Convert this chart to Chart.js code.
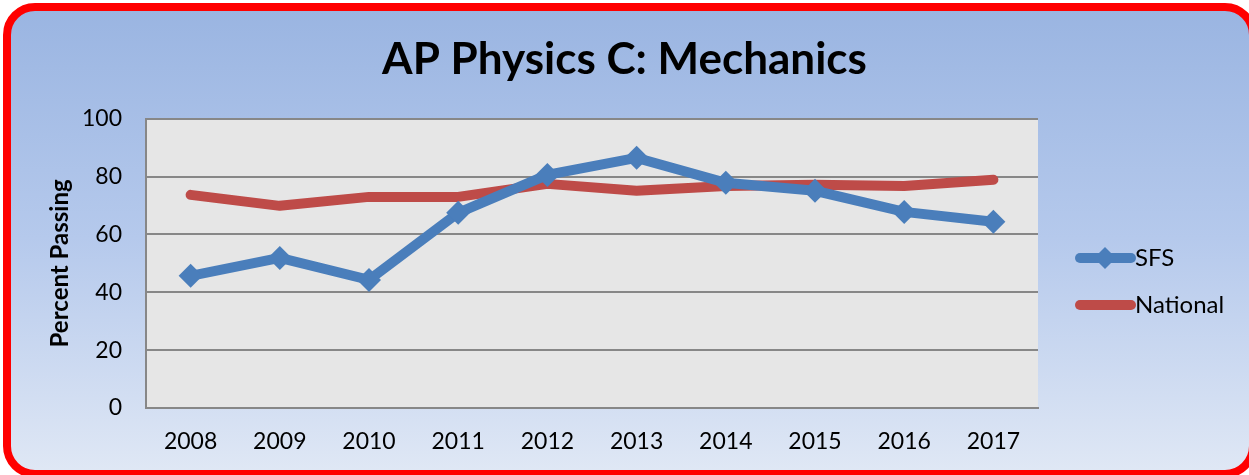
<!DOCTYPE html>
<html>
<head>
<meta charset="utf-8">
<script src="https://cdn.jsdelivr.net/npm/chart.js@4"></script>
<style>
  html, body { margin: 0; padding: 0; background: #fff; }
  #chart { display: block; }
</style>
</head>
<body>
<canvas id="chart" width="1249" height="475"></canvas>
<script>
const years = ['2008', '2009', '2010', '2011', '2012', '2013', '2014', '2015', '2016', '2017'];
const sfs = [45.7, 51.9, 44.3, 67.5, 80.6, 86.5, 77.9, 75.1, 67.8, 64.4];
const national = [73.7, 69.9, 73.0, 73.0, 77.5, 75.1, 76.8, 77.2, 76.8, 78.9];
const yTicks = [0, 20, 40, 60, 80, 100];

const FONT = 'Lato, "Open Sans", sans-serif';

// page background, red frame, grey plot area
const frame = {
  id: 'frame',
  beforeDraw(chart) {
    const ctx = chart.ctx;
    const h = chart.height;
    ctx.save();
    const g = ctx.createLinearGradient(0, 0, 0, h);
    g.addColorStop(0, '#99b4e1');
    g.addColorStop(0.5, '#b5c9ec');
    g.addColorStop(1, '#e0e8f5');
    ctx.beginPath();
    ctx.roundRect(7, 7, 1246, 467, 28);
    ctx.fillStyle = g;
    ctx.fill();
    ctx.lineWidth = 8;
    ctx.strokeStyle = '#ff0000';
    ctx.stroke();
    const a = chart.chartArea;
    ctx.fillStyle = '#e6e6e6';
    ctx.fillRect(a.left, a.top, a.right - a.left, a.bottom - a.top);
    ctx.restore();
  }
};

// legend on the right, Excel style
const sideLegend = {
  id: 'sideLegend',
  afterDraw(chart) {
    const ctx = chart.ctx;
    const rows = [258, 305];
    ctx.save();
    chart.data.datasets.forEach((ds, i) => {
      const y = rows[i];
      ctx.beginPath();
      ctx.moveTo(1080, y);
      ctx.lineTo(1131, y);
      ctx.lineWidth = 10;
      ctx.lineCap = 'round';
      ctx.strokeStyle = ds.borderColor;
      ctx.stroke();
      if (ds.pointRadius > 0) {
        ctx.beginPath();
        ctx.moveTo(1105, y - 11);
        ctx.lineTo(1116, y);
        ctx.lineTo(1105, y + 11);
        ctx.lineTo(1094, y);
        ctx.closePath();
        ctx.fillStyle = ds.borderColor;
        ctx.fill();
      }
      ctx.fillStyle = '#000';
      ctx.font = '24px ' + FONT;
      ctx.textBaseline = 'middle';
      ctx.textAlign = 'left';
      ctx.fillText(ds.label, 1135, y);
    });
    ctx.restore();
  }
};

new Chart(document.getElementById('chart'), {
  type: 'line',
  data: {
    labels: years,
    datasets: [
      {
        label: 'SFS',
        data: sfs,
        borderColor: '#4a7ebb',
        backgroundColor: '#4a7ebb',
        borderWidth: 10,
        pointStyle: 'rectRot',
        pointRadius: 12,
        pointBorderWidth: 0,
        tension: 0
      },
      {
        label: 'National',
        data: national,
        borderColor: '#be4b48',
        backgroundColor: '#be4b48',
        borderWidth: 10,
        borderCapStyle: 'round',
        borderJoinStyle: 'round',
        pointRadius: 0,
        tension: 0
      }
    ]
  },
  options: {
    responsive: false,
    animation: false,
    layout: { padding: 0 },
    plugins: {
      legend: { display: false },
      tooltip: { enabled: false },
      title: {
        display: true,
        text: 'AP Physics C: Mechanics',
        color: '#000',
        font: { family: FONT, size: 44, weight: 'bold', lineHeight: 1.2 },
        padding: { top: 33, bottom: 33 }
      }
    },
    scales: {
      x: {
        offset: true,
        grid: { display: false, drawTicks: false },
        border: { display: true, color: '#878787', width: 2 },
        ticks: { color: '#000', padding: 20, font: { family: FONT, size: 23 } },
        afterFit(scale) { scale.height = 67; }
      },
      y: {
        min: 0,
        max: 100,
        afterBuildTicks(scale) { scale.ticks = yTicks.map(v => ({ value: v })); },
        grid: { color: '#878787', lineWidth: 2, drawTicks: false },
        border: { display: true, color: '#878787', width: 2 },
        ticks: { color: '#000', padding: 24, font: { family: FONT, size: 23 } },
        title: {
          display: true,
          text: 'Percent Passing',
          color: '#000',
          font: { family: FONT, size: 24, weight: 'bold' },
          padding: { top: 46, bottom: 0 }
        },
        afterFit(scale) { scale.width = 146; }
      },
      // empty right axis that reserves the legend space
      side: {
        position: 'right',
        min: 0,
        max: 100,
        grid: { display: false, drawTicks: false },
        border: { display: false },
        ticks: { display: false },
        afterFit(scale) { scale.width = 211; }
      }
    }
  },
  plugins: [frame, sideLegend]
});
</script>
</body>
</html>
